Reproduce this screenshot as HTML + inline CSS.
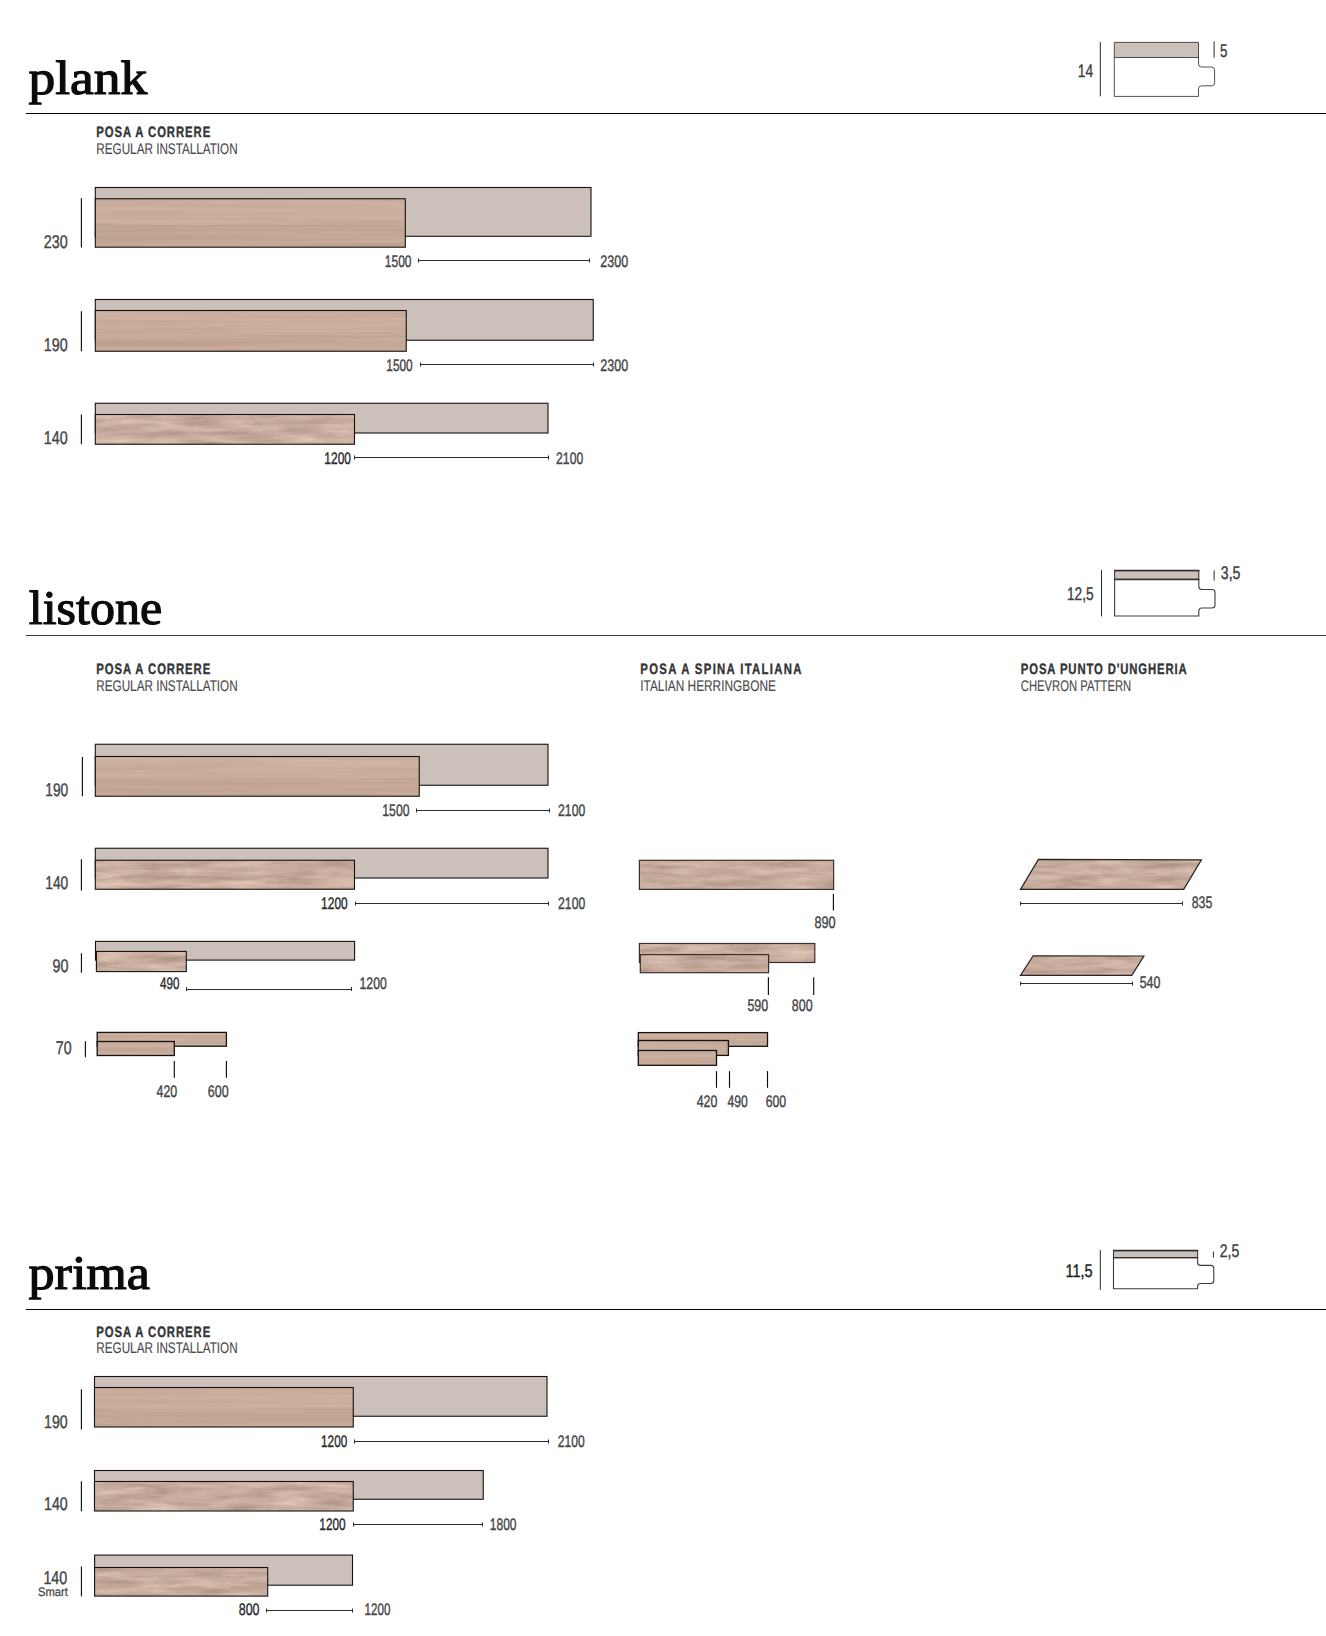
<!DOCTYPE html>
<html lang="it"><head><meta charset="utf-8"><title>plank / listone / prima</title>
<style>
html,body{margin:0;padding:0;background:#fff;}
svg{display:block;}
.s{font-family:"Liberation Sans", sans-serif;text-rendering:geometricPrecision;}
.f{font-family:"Liberation Serif", serif;text-rendering:geometricPrecision;}
</style></head><body>
<svg width="1326" height="1636" viewBox="0 0 1326 1636">
<defs>
<filter id="wA" x="0" y="0" width="100%" height="100%" color-interpolation-filters="sRGB">
<feTurbulence type="fractalNoise" baseFrequency="0.004 0.22" numOctaves="3" seed="7" result="n"/>
<feColorMatrix in="n" type="matrix" values="0.10 0 0 0 0.735  0.10 0 0 0 0.629  0.10 0 0 0 0.562  0 0 0 0 1" result="c"/>
<feComposite in="c" in2="SourceGraphic" operator="in"/>
</filter>
<filter id="wB" x="0" y="0" width="100%" height="100%" color-interpolation-filters="sRGB">
<feTurbulence type="fractalNoise" baseFrequency="0.022 0.16" numOctaves="4" seed="4" result="n"/>
<feColorMatrix in="n" type="matrix" values="0.26 0 0 0 0.650  0.26 0 0 0 0.546  0.26 0 0 0 0.490  0 0 0 0 1" result="c"/>
<feComposite in="c" in2="SourceGraphic" operator="in"/>
</filter>
</defs>
<rect width="1326" height="1636" fill="#ffffff"/>
<text class="f" x="28.50" y="94.10" font-size="48" fill="#0b0b0d" textLength="118.80" lengthAdjust="spacingAndGlyphs" stroke="#0b0b0d" stroke-width="1.2" stroke-linejoin="round">plank</text>
<line x1="25.90" y1="113.50" x2="1326.00" y2="113.50" stroke="#000" stroke-width="1"/>
<text class="s" transform="translate(96.30,137.15) scale(0.75,1)" font-size="15.1" font-weight="bold" fill="#333335" stroke="#333335" stroke-width="0.35" textLength="151.87" lengthAdjust="spacing">POSA A CORRERE</text>
<text class="s" transform="translate(96.30,154.15) scale(0.7603,1)" font-size="15.4" fill="#4a4a4c" stroke="#4a4a4c" stroke-width="0.12" textLength="185.98" lengthAdjust="spacing">REGULAR INSTALLATION</text>
<line x1="1100.30" y1="42.00" x2="1100.30" y2="96.40" stroke="#2a2a2c" stroke-width="1"/>
<text class="s" transform="translate(1077.80,76.80) scale(0.7606,1)" font-size="18.2" fill="#3e3e40" stroke="#3e3e40" stroke-width="0.4" textLength="20.24" lengthAdjust="spacing">14</text>
<rect x="1114.30" y="42.40" width="84.20" height="15.10" fill="#cbc0ba"/>
<path d="M1114.30,42.40 H1198.50 V64.00 Q1198.50,67.00 1201.50,67.00 H1211.60 Q1214.60,67.00 1214.60,70.00 V82.80 Q1214.60,85.80 1211.60,85.80 H1201.50 Q1198.50,85.80 1198.50,88.80 V96.40 H1114.30 Z" fill="none" stroke="#3c3c3e" stroke-width="0.9" stroke-linejoin="miter"/>
<line x1="1114.30" y1="57.50" x2="1198.50" y2="57.50" stroke="#3c3c3e" stroke-width="0.9"/>
<line x1="1214.10" y1="41.30" x2="1214.10" y2="57.60" stroke="#2a2a2c" stroke-width="1"/>
<text class="s" transform="translate(1220.10,56.80) scale(0.7313,1)" font-size="18.2" fill="#3e3e40" stroke="#3e3e40" stroke-width="0.4" textLength="10.12" lengthAdjust="spacing">5</text>
<rect x="95.30" y="187.50" width="495.70" height="48.80" fill="#cbc0ba" stroke="#151211" stroke-width="1.1"/>
<rect x="95.30" y="198.75" width="310.00" height="48.45" fill="#c3a799" filter="url(#wA)"/>
<rect x="95.30" y="198.75" width="310.00" height="26.16" fill="#e0b8b0" fill-opacity="0.12"/>
<rect x="95.30" y="224.91" width="310.00" height="22.29" fill="#8a6a3c" fill-opacity="0.08"/>
<rect x="95.30" y="198.75" width="310.00" height="48.45" fill="none" stroke="#151211" stroke-width="1.1"/>
<line x1="81.40" y1="198.25" x2="81.40" y2="247.50" stroke="#0e0e10" stroke-width="1.15"/>
<text class="s" transform="translate(43.80,247.50) scale(0.7764,1)" font-size="18.45" fill="#454547" stroke="#454547" stroke-width="0.4" textLength="30.78" lengthAdjust="spacing">230</text>
<text class="s" transform="translate(384.80,266.50) scale(0.7174,1)" font-size="16.7" fill="#454547" stroke="#454547" stroke-width="0.4" textLength="37.15" lengthAdjust="spacing">1500</text>
<line x1="418.50" y1="260.50" x2="589.50" y2="260.50" stroke="#2c2c2e" stroke-width="1.0"/>
<line x1="418.50" y1="258.50" x2="418.50" y2="262.50" stroke="#2c2c2e" stroke-width="1.0"/>
<line x1="589.50" y1="258.50" x2="589.50" y2="262.50" stroke="#2c2c2e" stroke-width="1.0"/>
<text class="s" transform="translate(600.30,266.50) scale(0.7510,1)" font-size="16.7" fill="#454547" stroke="#454547" stroke-width="0.4" textLength="37.15" lengthAdjust="spacing">2300</text>
<rect x="95.30" y="299.50" width="497.95" height="40.75" fill="#cbc0ba" stroke="#151211" stroke-width="1.1"/>
<rect x="95.30" y="310.50" width="310.95" height="40.75" fill="#c3a799" filter="url(#wA)"/>
<rect x="95.30" y="310.50" width="310.95" height="22.00" fill="#e0b8b0" fill-opacity="0.12"/>
<rect x="95.30" y="332.50" width="310.95" height="18.75" fill="#8a6a3c" fill-opacity="0.08"/>
<rect x="95.30" y="310.50" width="310.95" height="40.75" fill="none" stroke="#151211" stroke-width="1.1"/>
<line x1="81.40" y1="311.25" x2="81.40" y2="351.25" stroke="#0e0e10" stroke-width="1.15"/>
<text class="s" transform="translate(43.80,351.25) scale(0.7764,1)" font-size="18.45" fill="#454547" stroke="#454547" stroke-width="0.4" textLength="30.78" lengthAdjust="spacing">190</text>
<text class="s" transform="translate(386.30,370.50) scale(0.7106,1)" font-size="16.7" fill="#454547" stroke="#454547" stroke-width="0.4" textLength="37.15" lengthAdjust="spacing">1500</text>
<line x1="420.50" y1="364.50" x2="593.50" y2="364.50" stroke="#2c2c2e" stroke-width="1.0"/>
<line x1="420.50" y1="362.50" x2="420.50" y2="366.50" stroke="#2c2c2e" stroke-width="1.0"/>
<line x1="593.50" y1="362.50" x2="593.50" y2="366.50" stroke="#2c2c2e" stroke-width="1.0"/>
<text class="s" transform="translate(600.30,370.50) scale(0.7510,1)" font-size="16.7" fill="#454547" stroke="#454547" stroke-width="0.4" textLength="37.15" lengthAdjust="spacing">2300</text>
<rect x="95.30" y="403.25" width="452.70" height="29.75" fill="#cbc0ba" stroke="#151211" stroke-width="1.1"/>
<rect x="95.30" y="414.50" width="259.20" height="29.75" fill="#c3a799" filter="url(#wB)"/>
<rect x="95.30" y="414.50" width="259.20" height="29.75" fill="none" stroke="#151211" stroke-width="1.1"/>
<line x1="81.40" y1="414.50" x2="81.40" y2="444.25" stroke="#0e0e10" stroke-width="1.15"/>
<text class="s" transform="translate(43.80,444.25) scale(0.7764,1)" font-size="18.45" fill="#454547" stroke="#454547" stroke-width="0.4" textLength="30.78" lengthAdjust="spacing">140</text>
<text class="s" transform="translate(324.30,463.50) scale(0.7174,1)" font-size="16.7" fill="#2a2a2c" stroke="#2a2a2c" stroke-width="0.4" textLength="37.15" lengthAdjust="spacing">1200</text>
<line x1="354.50" y1="457.50" x2="548.50" y2="457.50" stroke="#2c2c2e" stroke-width="1.0"/>
<line x1="354.50" y1="455.50" x2="354.50" y2="459.50" stroke="#2c2c2e" stroke-width="1.0"/>
<line x1="548.50" y1="455.50" x2="548.50" y2="459.50" stroke="#2c2c2e" stroke-width="1.0"/>
<text class="s" transform="translate(556.05,463.50) scale(0.7308,1)" font-size="16.7" fill="#454547" stroke="#454547" stroke-width="0.4" textLength="37.15" lengthAdjust="spacing">2100</text>
<text class="f" x="28.80" y="623.80" font-size="48" fill="#0b0b0d" textLength="133.50" lengthAdjust="spacingAndGlyphs" stroke="#0b0b0d" stroke-width="1.2" stroke-linejoin="round">listone</text>
<line x1="25.90" y1="635.50" x2="1326.00" y2="635.50" stroke="#3c3c3c" stroke-width="1"/>
<text class="s" transform="translate(96.30,674.15) scale(0.75,1)" font-size="15.1" font-weight="bold" fill="#333335" stroke="#333335" stroke-width="0.35" textLength="151.87" lengthAdjust="spacing">POSA A CORRERE</text>
<text class="s" transform="translate(96.30,691.40) scale(0.7603,1)" font-size="15.4" fill="#4a4a4c" stroke="#4a4a4c" stroke-width="0.12" textLength="185.98" lengthAdjust="spacing">REGULAR INSTALLATION</text>
<text class="s" transform="translate(640.30,674.15) scale(0.75,1)" font-size="15.1" font-weight="bold" fill="#333335" stroke="#333335" stroke-width="0.35" textLength="214.87" lengthAdjust="spacing">POSA A SPINA ITALIANA</text>
<text class="s" transform="translate(640.30,691.40) scale(0.7708,1)" font-size="15.4" fill="#4a4a4c" stroke="#4a4a4c" stroke-width="0.12" textLength="175.99" lengthAdjust="spacing">ITALIAN HERRINGBONE</text>
<text class="s" transform="translate(1020.80,674.15) scale(0.75,1)" font-size="15.1" font-weight="bold" fill="#333335" stroke="#333335" stroke-width="0.35" textLength="221.20" lengthAdjust="spacing">POSA PUNTO D'UNGHERIA</text>
<text class="s" transform="translate(1020.80,691.40) scale(0.7317,1)" font-size="15.4" fill="#4a4a4c" stroke="#4a4a4c" stroke-width="0.12" textLength="150.87" lengthAdjust="spacing">CHEVRON PATTERN</text>
<line x1="1101.50" y1="570.00" x2="1101.50" y2="616.40" stroke="#2a2a2c" stroke-width="1"/>
<text class="s" transform="translate(1067.00,599.50) scale(0.7537,1)" font-size="18.2" fill="#3e3e40" stroke="#3e3e40" stroke-width="0.4" textLength="35.42" lengthAdjust="spacing">12,5</text>
<rect x="1114.60" y="570.60" width="84.20" height="8.80" fill="#cbc0ba"/>
<path d="M1114.60,570.60 H1198.80 V586.50 Q1198.80,589.50 1201.80,589.50 H1212.00 Q1215.00,589.50 1215.00,592.50 V605.00 Q1215.00,608.00 1212.00,608.00 H1201.80 Q1198.80,608.00 1198.80,611.00 V616.00 H1114.60 Z" fill="none" stroke="#3c3c3e" stroke-width="1.1" stroke-linejoin="miter"/>
<line x1="1114.60" y1="579.40" x2="1198.80" y2="579.40" stroke="#3c3c3e" stroke-width="1.1"/>
<line x1="1114.05" y1="570.50" x2="1199.35" y2="570.50" stroke="#2c2c2e" stroke-width="1.7"/>
<line x1="1114.05" y1="579.50" x2="1199.35" y2="579.50" stroke="#333335" stroke-width="1.3"/>
<line x1="1214.10" y1="570.40" x2="1214.10" y2="580.60" stroke="#2a2a2c" stroke-width="1"/>
<text class="s" transform="translate(1220.80,579.00) scale(0.7748,1)" font-size="18.2" fill="#3e3e40" stroke="#3e3e40" stroke-width="0.4" textLength="25.30" lengthAdjust="spacing">3,5</text>
<rect x="95.30" y="744.25" width="452.70" height="41.00" fill="#cbc0ba" stroke="#151211" stroke-width="1.1"/>
<rect x="95.30" y="756.50" width="323.95" height="39.75" fill="#c3a799" filter="url(#wA)"/>
<rect x="95.30" y="756.50" width="323.95" height="21.47" fill="#e0b8b0" fill-opacity="0.12"/>
<rect x="95.30" y="777.97" width="323.95" height="18.28" fill="#8a6a3c" fill-opacity="0.08"/>
<rect x="95.30" y="756.50" width="323.95" height="39.75" fill="none" stroke="#151211" stroke-width="1.1"/>
<line x1="82.40" y1="757.00" x2="82.40" y2="796.25" stroke="#0e0e10" stroke-width="1.15"/>
<text class="s" transform="translate(45.30,796.25) scale(0.7439,1)" font-size="18.45" fill="#454547" stroke="#454547" stroke-width="0.4" textLength="30.78" lengthAdjust="spacing">190</text>
<text class="s" transform="translate(382.30,815.50) scale(0.7308,1)" font-size="16.7" fill="#454547" stroke="#454547" stroke-width="0.4" textLength="37.15" lengthAdjust="spacing">1500</text>
<line x1="416.50" y1="810.50" x2="549.50" y2="810.50" stroke="#2c2c2e" stroke-width="1.0"/>
<line x1="416.50" y1="808.50" x2="416.50" y2="812.50" stroke="#2c2c2e" stroke-width="1.0"/>
<line x1="549.50" y1="808.50" x2="549.50" y2="812.50" stroke="#2c2c2e" stroke-width="1.0"/>
<text class="s" transform="translate(558.05,815.50) scale(0.7308,1)" font-size="16.7" fill="#454547" stroke="#454547" stroke-width="0.4" textLength="37.15" lengthAdjust="spacing">2100</text>
<rect x="95.30" y="848.25" width="452.70" height="29.75" fill="#cbc0ba" stroke="#151211" stroke-width="1.1"/>
<rect x="95.30" y="860.25" width="259.20" height="29.00" fill="#c3a799" filter="url(#wB)"/>
<rect x="95.30" y="860.25" width="259.20" height="29.00" fill="none" stroke="#151211" stroke-width="1.1"/>
<line x1="81.40" y1="859.25" x2="81.40" y2="890.50" stroke="#0e0e10" stroke-width="1.15"/>
<text class="s" transform="translate(45.30,889.25) scale(0.7439,1)" font-size="18.45" fill="#454547" stroke="#454547" stroke-width="0.4" textLength="30.78" lengthAdjust="spacing">140</text>
<text class="s" transform="translate(321.05,908.50) scale(0.7174,1)" font-size="16.7" fill="#2a2a2c" stroke="#2a2a2c" stroke-width="0.4" textLength="37.15" lengthAdjust="spacing">1200</text>
<line x1="355.50" y1="903.50" x2="548.50" y2="903.50" stroke="#2c2c2e" stroke-width="1.0"/>
<line x1="355.50" y1="901.50" x2="355.50" y2="905.50" stroke="#2c2c2e" stroke-width="1.0"/>
<line x1="548.50" y1="901.50" x2="548.50" y2="905.50" stroke="#2c2c2e" stroke-width="1.0"/>
<text class="s" transform="translate(558.05,908.50) scale(0.7308,1)" font-size="16.7" fill="#454547" stroke="#454547" stroke-width="0.4" textLength="37.15" lengthAdjust="spacing">2100</text>
<rect x="95.50" y="941.40" width="259.10" height="18.70" fill="#cbc0ba" stroke="#151211" stroke-width="1.1"/>
<rect x="96.40" y="951.40" width="89.90" height="20.20" fill="#c3a799" filter="url(#wB)"/>
<rect x="96.40" y="951.40" width="89.90" height="20.20" fill="none" stroke="#151211" stroke-width="1.1"/>
<line x1="81.45" y1="953.20" x2="81.45" y2="972.80" stroke="#0e0e10" stroke-width="1.15"/>
<text class="s" transform="translate(52.50,971.90) scale(0.7795,1)" font-size="18.45" fill="#454547" stroke="#454547" stroke-width="0.4" textLength="20.52" lengthAdjust="spacing">90</text>
<text class="s" transform="translate(160.10,988.80) scale(0.6962,1)" font-size="16.7" fill="#2a2a2c" stroke="#2a2a2c" stroke-width="0.4" textLength="27.86" lengthAdjust="spacing">490</text>
<line x1="186.50" y1="989.50" x2="351.50" y2="989.50" stroke="#2c2c2e" stroke-width="1.0"/>
<line x1="186.50" y1="987.00" x2="186.50" y2="991.00" stroke="#2c2c2e" stroke-width="1.0"/>
<line x1="351.50" y1="987.00" x2="351.50" y2="991.00" stroke="#2c2c2e" stroke-width="1.0"/>
<text class="s" transform="translate(359.50,988.80) scale(0.7349,1)" font-size="16.7" fill="#454547" stroke="#454547" stroke-width="0.4" textLength="37.15" lengthAdjust="spacing">1200</text>
<rect x="97.20" y="1032.40" width="129.20" height="13.80" fill="#c3a799" filter="url(#wA)"/>
<rect x="97.20" y="1032.40" width="129.20" height="13.80" fill="none" stroke="#151211" stroke-width="1.3"/>
<rect x="97.20" y="1041.50" width="77.10" height="14.00" fill="#c3a799" filter="url(#wA)"/>
<rect x="97.20" y="1041.50" width="77.10" height="14.00" fill="none" stroke="#151211" stroke-width="1.3"/>
<line x1="85.40" y1="1041.20" x2="85.40" y2="1057.30" stroke="#0e0e10" stroke-width="1.15"/>
<text class="s" transform="translate(55.80,1053.50) scale(0.7698,1)" font-size="18.45" fill="#454547" stroke="#454547" stroke-width="0.4" textLength="20.52" lengthAdjust="spacing">70</text>
<line x1="174.30" y1="1061.00" x2="174.30" y2="1077.70" stroke="#0e0e10" stroke-width="1.15"/>
<line x1="226.40" y1="1061.00" x2="226.40" y2="1077.70" stroke="#0e0e10" stroke-width="1.15"/>
<text class="s" transform="translate(156.50,1097.40) scale(0.7429,1)" font-size="16.7" fill="#454547" stroke="#454547" stroke-width="0.4" textLength="27.86" lengthAdjust="spacing">420</text>
<text class="s" transform="translate(207.80,1097.40) scale(0.7465,1)" font-size="16.7" fill="#454547" stroke="#454547" stroke-width="0.4" textLength="27.86" lengthAdjust="spacing">600</text>
<rect x="639.40" y="860.30" width="194.20" height="29.10" fill="#c3a799" filter="url(#wB)"/>
<rect x="639.40" y="860.30" width="194.20" height="29.10" fill="none" stroke="#3a2f2b" stroke-width="1.2"/>
<line x1="833.40" y1="893.90" x2="833.40" y2="910.60" stroke="#0e0e10" stroke-width="1.15"/>
<text class="s" transform="translate(814.40,927.80) scale(0.7608,1)" font-size="16.7" fill="#454547" stroke="#454547" stroke-width="0.4" textLength="27.86" lengthAdjust="spacing">890</text>
<rect x="639.40" y="943.50" width="175.40" height="19.00" fill="#c3a799" filter="url(#wB)"/>
<rect x="639.40" y="943.50" width="175.40" height="19.00" fill="none" stroke="#3a2f2b" stroke-width="1.2"/>
<rect x="640.30" y="954.60" width="128.30" height="18.10" fill="#c3a799" filter="url(#wB)"/>
<rect x="640.30" y="954.60" width="128.30" height="18.10" fill="none" stroke="#3a2f2b" stroke-width="1.2"/>
<line x1="768.40" y1="977.20" x2="768.40" y2="994.90" stroke="#0e0e10" stroke-width="1.15"/>
<line x1="813.70" y1="977.20" x2="813.70" y2="994.90" stroke="#0e0e10" stroke-width="1.15"/>
<text class="s" transform="translate(747.40,1010.70) scale(0.7465,1)" font-size="16.7" fill="#454547" stroke="#454547" stroke-width="0.4" textLength="27.86" lengthAdjust="spacing">590</text>
<text class="s" transform="translate(791.80,1010.70) scale(0.7465,1)" font-size="16.7" fill="#454547" stroke="#454547" stroke-width="0.4" textLength="27.86" lengthAdjust="spacing">800</text>
<rect x="638.30" y="1032.60" width="129.20" height="13.70" fill="#c3a799" filter="url(#wA)"/>
<rect x="638.30" y="1032.60" width="129.20" height="13.70" fill="none" stroke="#151211" stroke-width="1.3"/>
<rect x="638.30" y="1040.50" width="90.10" height="14.90" fill="#c3a799" filter="url(#wA)"/>
<rect x="638.30" y="1040.50" width="90.10" height="14.90" fill="none" stroke="#151211" stroke-width="1.3"/>
<rect x="638.30" y="1050.50" width="78.20" height="14.80" fill="#c3a799" filter="url(#wA)"/>
<rect x="638.30" y="1050.50" width="78.20" height="14.80" fill="none" stroke="#151211" stroke-width="1.3"/>
<line x1="716.50" y1="1071.10" x2="716.50" y2="1087.80" stroke="#0e0e10" stroke-width="1.15"/>
<line x1="729.50" y1="1071.10" x2="729.50" y2="1087.80" stroke="#0e0e10" stroke-width="1.15"/>
<line x1="767.50" y1="1071.10" x2="767.50" y2="1087.80" stroke="#0e0e10" stroke-width="1.15"/>
<text class="s" transform="translate(696.70,1107.30) scale(0.7429,1)" font-size="16.7" fill="#454547" stroke="#454547" stroke-width="0.4" textLength="27.86" lengthAdjust="spacing">420</text>
<text class="s" transform="translate(727.50,1107.30) scale(0.7285,1)" font-size="16.7" fill="#454547" stroke="#454547" stroke-width="0.4" textLength="27.86" lengthAdjust="spacing">490</text>
<text class="s" transform="translate(765.70,1107.30) scale(0.7357,1)" font-size="16.7" fill="#454547" stroke="#454547" stroke-width="0.4" textLength="27.86" lengthAdjust="spacing">600</text>
<polygon points="1020.50,889.40 1038.40,859.40 1201.40,859.90 1183.70,889.40" fill="#c3a799" filter="url(#wB)"/>
<polygon points="1020.50,889.40 1038.40,859.40 1201.40,859.90 1183.70,889.40" fill="none" stroke="#2a2321" stroke-width="1.2" stroke-linejoin="miter"/>
<line x1="1020.50" y1="903.50" x2="1182.50" y2="903.50" stroke="#2c2c2e" stroke-width="1.0"/>
<line x1="1020.50" y1="901.50" x2="1020.50" y2="905.50" stroke="#2c2c2e" stroke-width="1.0"/>
<line x1="1182.50" y1="901.50" x2="1182.50" y2="905.50" stroke="#2c2c2e" stroke-width="1.0"/>
<text class="s" transform="translate(1191.70,908.40) scale(0.7393,1)" font-size="16.7" fill="#454547" stroke="#454547" stroke-width="0.4" textLength="27.86" lengthAdjust="spacing">835</text>
<polygon points="1020.50,975.40 1033.10,955.80 1143.90,956.00 1131.80,975.40" fill="#c3a799" filter="url(#wB)"/>
<polygon points="1020.50,975.40 1033.10,955.80 1143.90,956.00 1131.80,975.40" fill="none" stroke="#2a2321" stroke-width="1.2" stroke-linejoin="miter"/>
<line x1="1020.50" y1="983.50" x2="1132.50" y2="983.50" stroke="#2c2c2e" stroke-width="1.0"/>
<line x1="1020.50" y1="981.50" x2="1020.50" y2="985.50" stroke="#2c2c2e" stroke-width="1.0"/>
<line x1="1132.50" y1="981.50" x2="1132.50" y2="985.50" stroke="#2c2c2e" stroke-width="1.0"/>
<text class="s" transform="translate(1139.70,988.40) scale(0.7429,1)" font-size="16.7" fill="#454547" stroke="#454547" stroke-width="0.4" textLength="27.86" lengthAdjust="spacing">540</text>
<text class="f" x="28.50" y="1289.10" font-size="48" fill="#0b0b0d" textLength="121.50" lengthAdjust="spacingAndGlyphs" stroke="#0b0b0d" stroke-width="1.2" stroke-linejoin="round">prima</text>
<line x1="25.90" y1="1309.50" x2="1326.00" y2="1309.50" stroke="#000" stroke-width="1"/>
<text class="s" transform="translate(96.30,1337.15) scale(0.75,1)" font-size="15.1" font-weight="bold" fill="#333335" stroke="#333335" stroke-width="0.35" textLength="151.87" lengthAdjust="spacing">POSA A CORRERE</text>
<text class="s" transform="translate(96.30,1353.40) scale(0.7603,1)" font-size="15.4" fill="#4a4a4c" stroke="#4a4a4c" stroke-width="0.12" textLength="185.98" lengthAdjust="spacing">REGULAR INSTALLATION</text>
<line x1="1100.30" y1="1250.00" x2="1100.30" y2="1289.90" stroke="#2a2a2c" stroke-width="1"/>
<text class="s" transform="translate(1065.50,1276.50) scale(0.7954,1)" font-size="18.2" fill="#1e1e20" stroke="#1e1e20" stroke-width="0.4" textLength="34.07" lengthAdjust="spacing">11,5</text>
<rect x="1113.50" y="1250.60" width="84.10" height="7.00" fill="#cbc0ba"/>
<path d="M1113.50,1250.60 H1197.60 V1262.40 Q1197.60,1265.40 1200.60,1265.40 H1210.80 Q1213.80,1265.40 1213.80,1268.40 V1280.50 Q1213.80,1283.50 1210.80,1283.50 H1200.60 Q1197.60,1283.50 1197.60,1286.50 V1288.80 H1113.50 Z" fill="none" stroke="#3c3c3e" stroke-width="1.1" stroke-linejoin="miter"/>
<line x1="1113.50" y1="1257.60" x2="1197.60" y2="1257.60" stroke="#3c3c3e" stroke-width="1.1"/>
<line x1="1112.95" y1="1250.50" x2="1198.15" y2="1250.50" stroke="#2c2c2e" stroke-width="1.7"/>
<line x1="1112.95" y1="1257.60" x2="1198.15" y2="1257.60" stroke="#333335" stroke-width="1.3"/>
<line x1="1213.40" y1="1251.60" x2="1213.40" y2="1257.60" stroke="#2a2a2c" stroke-width="1"/>
<text class="s" transform="translate(1219.70,1257.10) scale(0.7708,1)" font-size="18.2" fill="#3e3e40" stroke="#3e3e40" stroke-width="0.4" textLength="25.30" lengthAdjust="spacing">2,5</text>
<rect x="94.50" y="1376.50" width="452.50" height="39.75" fill="#cbc0ba" stroke="#151211" stroke-width="1.1"/>
<rect x="94.50" y="1387.50" width="258.75" height="39.50" fill="#c3a799" filter="url(#wA)"/>
<rect x="94.50" y="1387.50" width="258.75" height="21.33" fill="#e0b8b0" fill-opacity="0.12"/>
<rect x="94.50" y="1408.83" width="258.75" height="18.17" fill="#8a6a3c" fill-opacity="0.08"/>
<rect x="94.50" y="1387.50" width="258.75" height="39.50" fill="none" stroke="#151211" stroke-width="1.1"/>
<line x1="81.40" y1="1389.25" x2="81.40" y2="1429.50" stroke="#0e0e10" stroke-width="1.15"/>
<text class="s" transform="translate(44.05,1427.50) scale(0.7683,1)" font-size="18.45" fill="#454547" stroke="#454547" stroke-width="0.4" textLength="30.78" lengthAdjust="spacing">190</text>
<text class="s" transform="translate(321.05,1446.50) scale(0.7039,1)" font-size="16.7" fill="#2a2a2c" stroke="#2a2a2c" stroke-width="0.4" textLength="37.15" lengthAdjust="spacing">1200</text>
<line x1="354.50" y1="1441.50" x2="548.50" y2="1441.50" stroke="#2c2c2e" stroke-width="1.0"/>
<line x1="354.50" y1="1439.50" x2="354.50" y2="1443.50" stroke="#2c2c2e" stroke-width="1.0"/>
<line x1="548.50" y1="1439.50" x2="548.50" y2="1443.50" stroke="#2c2c2e" stroke-width="1.0"/>
<text class="s" transform="translate(557.80,1446.50) scale(0.7241,1)" font-size="16.7" fill="#454547" stroke="#454547" stroke-width="0.4" textLength="37.15" lengthAdjust="spacing">2100</text>
<rect x="94.50" y="1470.50" width="388.75" height="28.75" fill="#cbc0ba" stroke="#151211" stroke-width="1.1"/>
<rect x="94.50" y="1481.50" width="258.75" height="29.50" fill="#c3a799" filter="url(#wB)"/>
<rect x="94.50" y="1481.50" width="258.75" height="29.50" fill="none" stroke="#151211" stroke-width="1.1"/>
<line x1="81.40" y1="1481.25" x2="81.40" y2="1511.25" stroke="#0e0e10" stroke-width="1.15"/>
<text class="s" transform="translate(44.05,1510.25) scale(0.7683,1)" font-size="18.45" fill="#454547" stroke="#454547" stroke-width="0.4" textLength="30.78" lengthAdjust="spacing">140</text>
<text class="s" transform="translate(319.30,1530.25) scale(0.7106,1)" font-size="16.7" fill="#2a2a2c" stroke="#2a2a2c" stroke-width="0.4" textLength="37.15" lengthAdjust="spacing">1200</text>
<line x1="353.50" y1="1524.50" x2="482.50" y2="1524.50" stroke="#2c2c2e" stroke-width="1.0"/>
<line x1="353.50" y1="1522.50" x2="353.50" y2="1526.50" stroke="#2c2c2e" stroke-width="1.0"/>
<line x1="482.50" y1="1522.50" x2="482.50" y2="1526.50" stroke="#2c2c2e" stroke-width="1.0"/>
<text class="s" transform="translate(489.80,1530.25) scale(0.7174,1)" font-size="16.7" fill="#454547" stroke="#454547" stroke-width="0.4" textLength="37.15" lengthAdjust="spacing">1800</text>
<rect x="94.60" y="1555.10" width="257.90" height="30.10" fill="#cbc0ba" stroke="#151211" stroke-width="1.1"/>
<rect x="94.60" y="1567.50" width="173.10" height="28.60" fill="#c3a799" filter="url(#wB)"/>
<rect x="94.60" y="1567.50" width="173.10" height="28.60" fill="none" stroke="#151211" stroke-width="1.1"/>
<line x1="81.45" y1="1566.50" x2="81.45" y2="1596.40" stroke="#0e0e10" stroke-width="1.15"/>
<text class="s" transform="translate(43.40,1583.70) scale(0.7764,1)" font-size="18.45" fill="#454547" stroke="#454547" stroke-width="0.4" textLength="30.78" lengthAdjust="spacing">140</text>
<text class="s" transform="translate(238.80,1615.40) scale(0.7429,1)" font-size="16.7" fill="#2a2a2c" stroke="#2a2a2c" stroke-width="0.4" textLength="27.86" lengthAdjust="spacing">800</text>
<line x1="266.50" y1="1610.50" x2="352.50" y2="1610.50" stroke="#2c2c2e" stroke-width="1.0"/>
<line x1="266.50" y1="1608.50" x2="266.50" y2="1612.50" stroke="#2c2c2e" stroke-width="1.0"/>
<line x1="352.50" y1="1608.50" x2="352.50" y2="1612.50" stroke="#2c2c2e" stroke-width="1.0"/>
<text class="s" transform="translate(364.60,1615.40) scale(0.6945,1)" font-size="16.7" fill="#454547" stroke="#454547" stroke-width="0.4" textLength="37.15" lengthAdjust="spacing">1200</text>
<text class="s" transform="translate(37.90,1595.50) scale(0.9071,1)" font-size="12.4" fill="#454547" stroke="#454547" stroke-width="0.25" textLength="33.07" lengthAdjust="spacing">Smart</text>
</svg></body></html>
